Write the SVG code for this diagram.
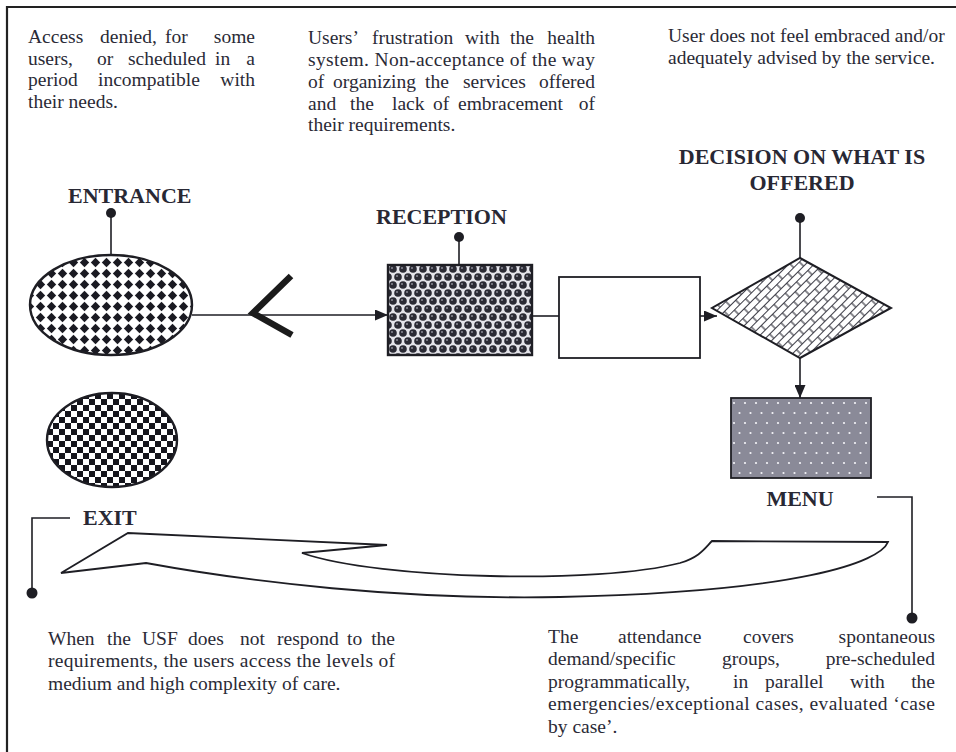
<svg xmlns="http://www.w3.org/2000/svg" width="956" height="752" viewBox="0 0 956 752">
<defs>
<style>
.t{font-family:"Liberation Serif","Times New Roman",serif;font-size:19.5px;fill:#2a2a36}
.h{font-family:"Liberation Serif","Times New Roman",serif;font-size:22px;font-weight:bold;fill:#282834}
.ln{stroke:#1e1e24;stroke-width:1.6;fill:none}
.dot{fill:#1e1e24}
.shape{stroke:#1e1e24;stroke-width:2.4}
</style>
<marker id="arr" markerWidth="13" markerHeight="11" refX="13" refY="5.5" orient="auto" markerUnits="userSpaceOnUse"><path d="M0,0 L13,5.5 L0,11 z" fill="#1e1e24"/></marker>
<pattern id="pDiamond" width="11" height="11" patternUnits="userSpaceOnUse" x="2" y="4">
<rect width="11" height="11" fill="#fff"/>
<polygon points="5.5,0.8 10.2,5.5 5.5,10.2 0.8,5.5" fill="#1a1a22"/>
</pattern>
<pattern id="pBeads" width="10" height="16" patternUnits="userSpaceOnUse" x="388" y="265">
<rect width="10" height="16" fill="#e4e4ea"/>
<circle cx="5" cy="4" r="3.8" fill="#2a2a34"/>
<circle cx="0" cy="12" r="3.8" fill="#2a2a34"/>
<circle cx="10" cy="12" r="3.8" fill="#2a2a34"/>
<circle cx="4" cy="3" r="1" fill="#8a8a96"/>
<circle cx="9" cy="11" r="1" fill="#8a8a96"/>
</pattern>
<pattern id="pBrick" width="16" height="12" patternUnits="userSpaceOnUse" patternTransform="rotate(-45)">
<rect width="16" height="12" fill="#fff"/>
<path d="M0 0.5H16M0 6.5H16M4 0.5V6.5M12 6.5V12.5" stroke="#3a3a44" stroke-width="1.2" fill="none"/>
</pattern>
<pattern id="pMenu" width="11" height="20" patternUnits="userSpaceOnUse" x="731" y="398">
<rect width="11" height="20" fill="#8a8a98"/>
<circle cx="3" cy="5" r="1.1" fill="#f4f4f8"/>
<circle cx="8.5" cy="15" r="1.1" fill="#f4f4f8"/>
</pattern>
<pattern id="pChecker" width="12" height="12" patternUnits="userSpaceOnUse" x="47" y="393">
<rect width="12" height="12" fill="#fff"/>
<rect width="6" height="6" fill="#15151c"/>
<rect x="6" y="6" width="6" height="6" fill="#15151c"/>
</pattern>
</defs>
<rect width="956" height="752" fill="#fff"/>
<g id="frame">
<path d="M7 752V7H956" stroke="#222" stroke-width="2.2" fill="none"/>
</g>

<g id="note-access">
<text class="t" y="43"><tspan x="28">Access</tspan><tspan x="100">denied,</tspan><tspan x="165">for</tspan><tspan x="255" text-anchor="end">some</tspan></text>
<text class="t" y="65"><tspan x="28">users,</tspan><tspan x="97">or</tspan><tspan x="128">scheduled</tspan><tspan x="215">in</tspan><tspan x="255" text-anchor="end">a</tspan></text>
<text class="t" y="86"><tspan x="28">period</tspan><tspan x="98">incompatible</tspan><tspan x="255" text-anchor="end">with</tspan></text>
<text class="t" x="28" y="108">their needs.</text>
</g>

<g id="note-frustration">
<text class="t" y="44"><tspan x="308">Users’</tspan><tspan x="372">frustration</tspan><tspan x="465">with</tspan><tspan x="510">the</tspan><tspan x="595" text-anchor="end">health</tspan></text>
<text class="t" x="308" y="66" textLength="287" lengthAdjust="spacing">system. Non-acceptance of the way</text>
<text class="t" y="88"><tspan x="308">of</tspan><tspan x="333">organizing</tspan><tspan x="425">the</tspan><tspan x="463">services</tspan><tspan x="595" text-anchor="end">offered</tspan></text>
<text class="t" y="110"><tspan x="308">and</tspan><tspan x="350">the</tspan><tspan x="392">lack</tspan><tspan x="433">of</tspan><tspan x="458">embracement</tspan><tspan x="595" text-anchor="end">of</tspan></text>
<text class="t" x="308" y="131">their requirements.</text>
</g>

<g id="note-embraced">
<text class="t" x="668" y="42">User does not feel embraced and/or</text>
<text class="t" x="668" y="64">adequately advised by the service.</text>
</g>

<g id="entrance">
<text class="h" x="68" y="203">ENTRANCE</text>
<line class="ln" x1="111" y1="213" x2="111" y2="255"/>
<circle class="dot" cx="111" cy="213" r="5"/>
<ellipse class="shape" cx="111" cy="305" rx="81" ry="50" fill="url(#pDiamond)"/>
</g>

<g id="reception">
<text class="h" x="376" y="224">RECEPTION</text>
<line class="ln" x1="459" y1="237" x2="459" y2="265"/>
<circle class="dot" cx="459" cy="237" r="5"/>
<rect class="shape" x="388" y="265" width="144" height="90" fill="url(#pBeads)" stroke-width="2"/>
</g>

<g id="blank-step">
<rect x="559" y="277" width="141" height="81" fill="#fff" stroke="#1e1e24" stroke-width="1.8"/>
</g>

<g id="decision">
<text class="h" x="802" y="164" text-anchor="middle">DECISION ON WHAT IS</text>
<text class="h" x="802" y="190" text-anchor="middle">OFFERED</text>
<line class="ln" x1="800" y1="218" x2="800" y2="258"/>
<circle class="dot" cx="800" cy="218" r="5"/>
<polygon points="800,258 891,308 800,358 712,308" fill="url(#pBrick)" stroke="#1e1e24" stroke-width="2"/>
</g>

<g id="menu">
<rect x="731" y="398" width="140" height="80" fill="url(#pMenu)" stroke="#1e1e24" stroke-width="1.8"/>
<text class="h" x="800" y="506" text-anchor="middle" font-size="21">MENU</text>
<path class="ln" d="M877 497H912V613"/>
<circle class="dot" cx="912" cy="618" r="5.5"/>
</g>

<g id="exit">
<ellipse class="shape" cx="112" cy="440" rx="65" ry="47" fill="url(#pChecker)"/>
<text class="h" x="83" y="525" font-size="21">EXIT</text>
<path class="ln" d="M70 518H32V590"/>
<circle class="dot" cx="32" cy="593" r="5.5"/>
</g>

<g id="note-usf">
<text class="t" y="645"><tspan x="48">When</tspan><tspan x="107">the</tspan><tspan x="142">USF</tspan><tspan x="188">does</tspan><tspan x="240">not</tspan><tspan x="277">respond</tspan><tspan x="347">to</tspan><tspan x="395" text-anchor="end">the</tspan></text>
<text class="t" x="48" y="667" textLength="347" lengthAdjust="spacing">requirements, the users access the levels of</text>
<text class="t" x="48" y="690">medium and high complexity of care.</text>
</g>

<g id="note-attendance">
<text class="t" y="643"><tspan x="548">The</tspan><tspan x="618">attendance</tspan><tspan x="743">covers</tspan><tspan x="935" text-anchor="end">spontaneous</tspan></text>
<text class="t" y="665"><tspan x="548">demand/specific</tspan><tspan x="722">groups,</tspan><tspan x="935" text-anchor="end">pre-scheduled</tspan></text>
<text class="t" y="688"><tspan x="548">programmatically,</tspan><tspan x="733">in</tspan><tspan x="765">parallel</tspan><tspan x="850">with</tspan><tspan x="935" text-anchor="end">the</tspan></text>
<text class="t" x="548" y="710" textLength="387" lengthAdjust="spacing">emergencies/exceptional cases, evaluated ‘case</text>
<text class="t" x="548" y="733">by case’.</text>
</g>

<g id="connectors">
<line class="ln" x1="192" y1="315" x2="388" y2="315" marker-end="url(#arr)"/>
<polyline points="291,276 253,313 292,335" fill="none" stroke="#1b1b1b" stroke-width="6.5"/>
<line class="ln" x1="532" y1="316" x2="559" y2="316"/>
<line class="ln" x1="700" y1="316" x2="717" y2="316" marker-end="url(#arr)"/>
<line class="ln" x1="800" y1="358" x2="800" y2="398" marker-end="url(#arr)"/>
<path d="M61 573 L128 533 L387 545 L302 553 C380 580 600 584 680 563 C700 557 705 548 712 541 L888 542 C880 562 800 592 560 597 C400 600 250 582 146 563 Z" fill="#fff" stroke="#1e1e24" stroke-width="1.8" stroke-linejoin="miter"/>
</g>
</svg>
